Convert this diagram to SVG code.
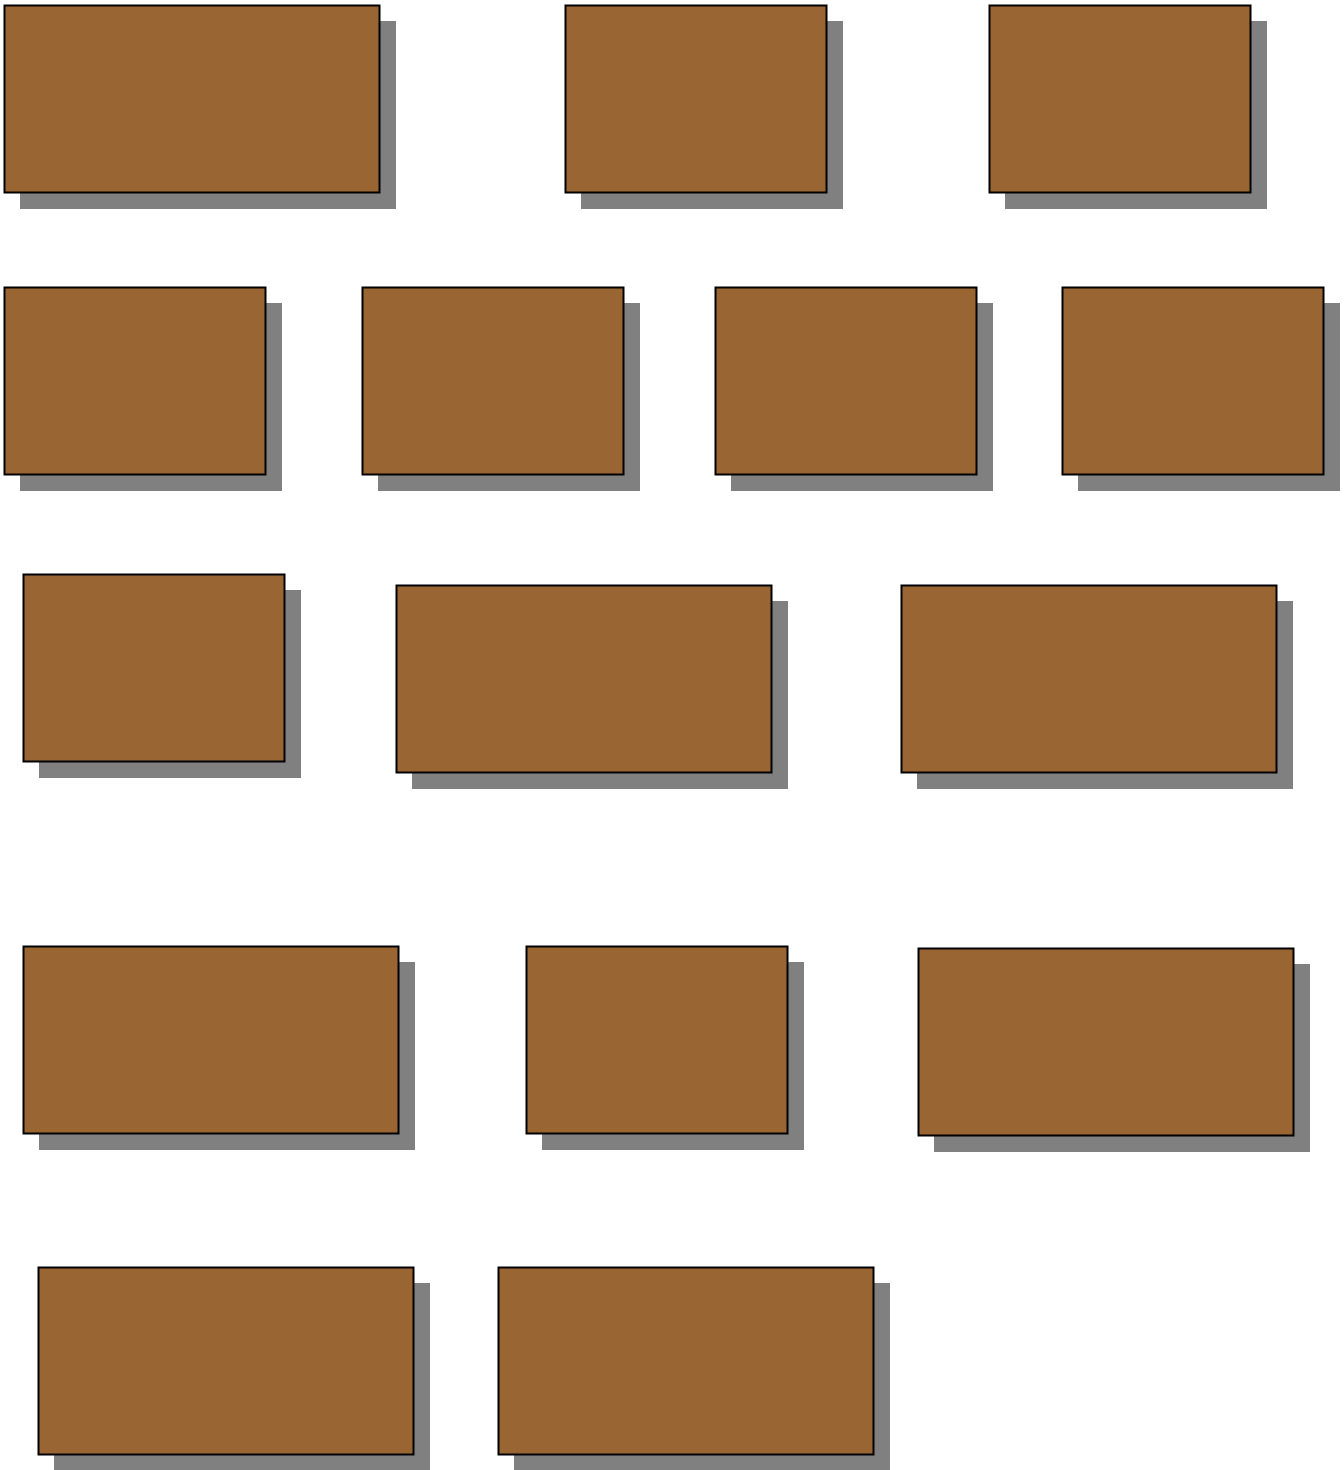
<svg xmlns="http://www.w3.org/2000/svg" width="1344" height="1470" viewBox="0 0 1344 1470">
<style>
.sh{fill:#808080;stroke:none}
.bx{fill:#996633;stroke:#000;stroke-width:2}
</style>
<rect width="1344" height="1470" fill="#fff"/>
<g id="n1"><rect class="sh" x="20" y="21" width="376" height="188"/><rect class="bx" x="4.5" y="5.5" width="375" height="187"/></g>
<g id="n2"><rect class="sh" x="581" y="21" width="262" height="188"/><rect class="bx" x="565.5" y="5.5" width="261" height="187"/></g>
<g id="n3"><rect class="sh" x="1005" y="21" width="262" height="188"/><rect class="bx" x="989.5" y="5.5" width="261" height="187"/></g>
<g id="n4"><rect class="sh" x="20" y="303" width="262" height="188"/><rect class="bx" x="4.5" y="287.5" width="261" height="187"/></g>
<g id="n5"><rect class="sh" x="378" y="303" width="262" height="188"/><rect class="bx" x="362.5" y="287.5" width="261" height="187"/></g>
<g id="n6"><rect class="sh" x="731" y="303" width="262" height="188"/><rect class="bx" x="715.5" y="287.5" width="261" height="187"/></g>
<g id="n7"><rect class="sh" x="1078" y="303" width="262" height="188"/><rect class="bx" x="1062.5" y="287.5" width="261" height="187"/></g>
<g id="n8"><rect class="sh" x="39" y="590" width="262" height="188"/><rect class="bx" x="23.5" y="574.5" width="261" height="187"/></g>
<g id="n9"><rect class="sh" x="412" y="601" width="376" height="188"/><rect class="bx" x="396.5" y="585.5" width="375" height="187"/></g>
<g id="n10"><rect class="sh" x="917" y="601" width="376" height="188"/><rect class="bx" x="901.5" y="585.5" width="375" height="187"/></g>
<g id="n11"><rect class="sh" x="39" y="962" width="376" height="188"/><rect class="bx" x="23.5" y="946.5" width="375" height="187"/></g>
<g id="n12"><rect class="sh" x="542" y="962" width="262" height="188"/><rect class="bx" x="526.5" y="946.5" width="261" height="187"/></g>
<g id="n13"><rect class="sh" x="934" y="964" width="376" height="188"/><rect class="bx" x="918.5" y="948.5" width="375" height="187"/></g>
<g id="n14"><rect class="sh" x="54" y="1283" width="376" height="188"/><rect class="bx" x="38.5" y="1267.5" width="375" height="187"/></g>
<g id="n15"><rect class="sh" x="514" y="1283" width="376" height="188"/><rect class="bx" x="498.5" y="1267.5" width="375" height="187"/></g>
<g id="connectors"></g>
</svg>
